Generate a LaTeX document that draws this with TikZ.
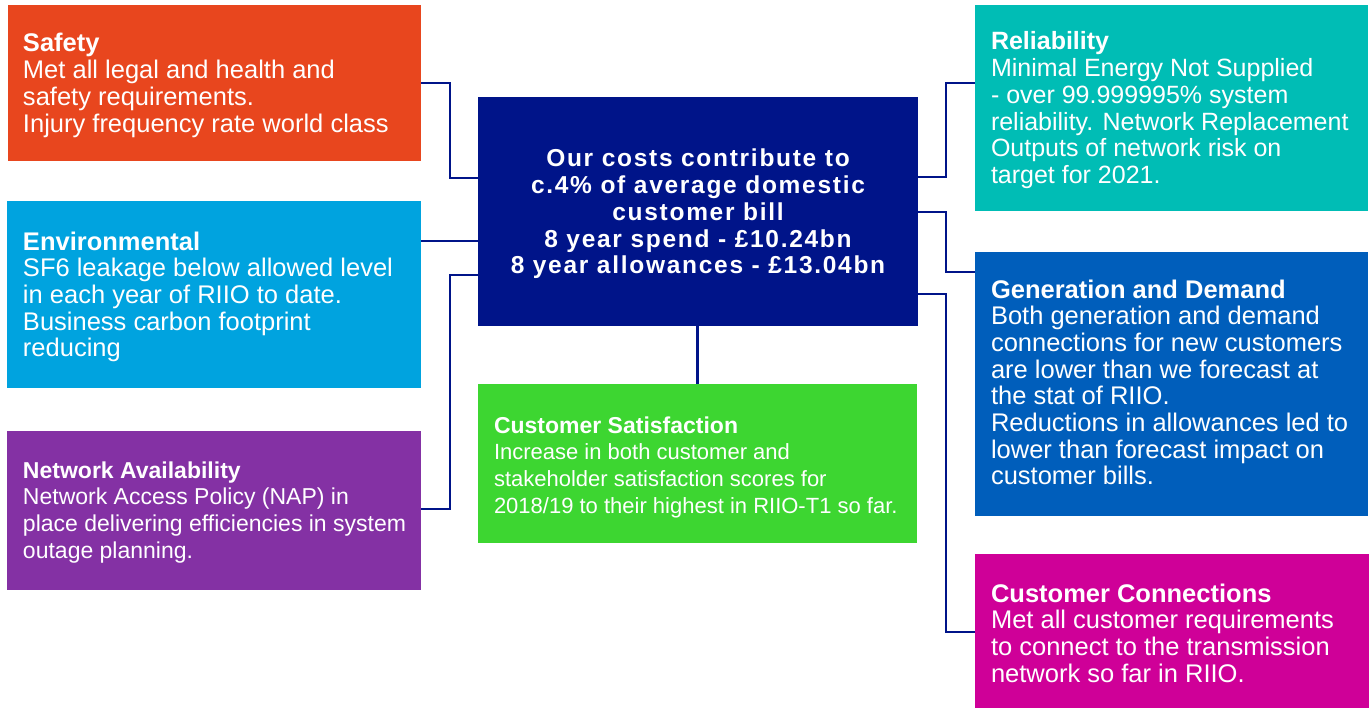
\documentclass[tikz,border=0pt]{standalone}
\usepackage{fontspec}
\setmainfont{Liberation Sans}
\newfontfamily\ctrfont[LetterSpace=7.0]{Liberation Sans}
\definecolor{csafety}{HTML}{E8461E}
\definecolor{cenv}{HTML}{00A3DF}
\definecolor{cnet}{HTML}{8431A4}
\definecolor{ccenter}{HTML}{001489}
\definecolor{ccs}{HTML}{3DD631}
\definecolor{crel}{HTML}{00BDB5}
\definecolor{cgen}{HTML}{005EBB}
\definecolor{ccc}{HTML}{CF0098}
\begin{document}
\begin{tikzpicture}[x=1pt,y=-1pt,
  box/.style={draw=none,inner sep=0pt,outer sep=0pt,anchor=north west},
  txt/.style={text=white,inner sep=0pt,outer sep=0pt,anchor=base west,align=left,font=\fontsize{25.5}{26.7}\selectfont},
  conn/.style={draw=ccenter,line width=2.8pt}]
\useasboundingbox (0,0) rectangle (1372,708);
\fill[white] (0,0) rectangle (1372,708);
% boxes
\node[box,fill=csafety,minimum width=413pt,minimum height=156pt] (safety) at (8,5) {};
\node[box,fill=cenv,minimum width=414pt,minimum height=187pt] (env) at (7,201) {};
\node[box,fill=cnet,minimum width=414pt,minimum height=159pt] (net) at (7,431) {};
\node[box,fill=ccenter,minimum width=440pt,minimum height=229pt] (center) at (478,97) {};
\node[box,fill=ccs,minimum width=439pt,minimum height=159pt] (cs) at (478,384) {};
\node[box,fill=crel,minimum width=393pt,minimum height=206pt] (rel) at (975,5) {};
\node[box,fill=cgen,minimum width=393pt,minimum height=264pt] (gen) at (975,252) {};
\node[box,fill=ccc,minimum width=394pt,minimum height=154pt] (cc) at (975,554) {};
% connectors
\coordinate (lx) at (450,0);
\coordinate (rx) at (946,0);
\draw[conn] (safety.east) -- (lx |- safety.east) |- (center.west |- {(0,178)});
\draw[conn] (env.east |- {(0,241)}) -- (center.west |- {(0,241)});
\draw[conn] (net.east |- {(0,509)}) -- (lx |- {(0,509)}) |- (center.west |- {(0,275)});
\draw[conn] (center.south -| cs.north) -- (cs.north);
\draw[conn] (center.east |- {(0,177)}) -- (rx |- {(0,177)}) |- (rel.west |- {(0,83)});
\draw[conn] (center.east |- {(0,212)}) -- (rx |- {(0,212)}) |- (gen.west |- {(0,272)});
\draw[conn] (center.east |- {(0,294)}) -- (rx |- {(0,294)}) |- (cc.west |- {(0,632)});
% texts (anchored at the baseline of their last line)
\node[txt] (safetyt) at (23,132.1) {\textbf{Safety}\\Met all legal and health and\\safety requirements.\\Injury frequency rate world class};
\node[txt] (envt) at (23,356.8) {\textbf{Environmental}\\SF6 leakage below allowed level\\in each year of RIIO to date.\\Business carbon footprint\\reducing};
\node[txt,font=\fontsize{23}{26.7}\selectfont] (nett) at (23,558.1) {\textbf{Network Availability}\\Network Access Policy (NAP) in\\place delivering efficiencies in system\\outage planning.};
\node[txt,anchor=base,align=center,font=\ctrfont\bfseries\fontsize{24.5}{26.7}\selectfont] (centert) at (698,273.8) {Our costs contribute to\\c.4\% of average domestic\\customer bill\\8 year spend - £10.24bn\\8 year allowances - £13.04bn};
\node[txt,font=\fontsize{22}{26.7}\selectfont] (cst) at (494,513.1) {{\fontsize{23}{26.7}\selectfont\textbf{Customer Satisfaction}}\\Increase in both customer and\\stakeholder satisfaction scores for\\2018/19 to their highest in RIIO-T1 so far.};
\node[txt,font=\fontsize{25}{26.7}\selectfont] (relt) at (991,183.5) {\textbf{Reliability}\\Minimal Energy Not Supplied\\- over 99.999995\% system\\reliability. Network Replacement\\Outputs of network risk on\\target for 2021.};
\node[txt] (gent) at (991,484.9) {\textbf{Generation and Demand}\\Both generation and demand\\connections for new customers\\are lower than we forecast at\\the stat of RIIO.\\Reductions in allowances led to\\lower than forecast impact on\\customer bills.};
\node[txt,font=\fontsize{25.5}{26.7}\selectfont] (cct) at (991,682.1) {\textbf{Customer Connections}\\Met all customer requirements\\to connect to the transmission\\network so far in RIIO.};
\end{tikzpicture}
\end{document}
